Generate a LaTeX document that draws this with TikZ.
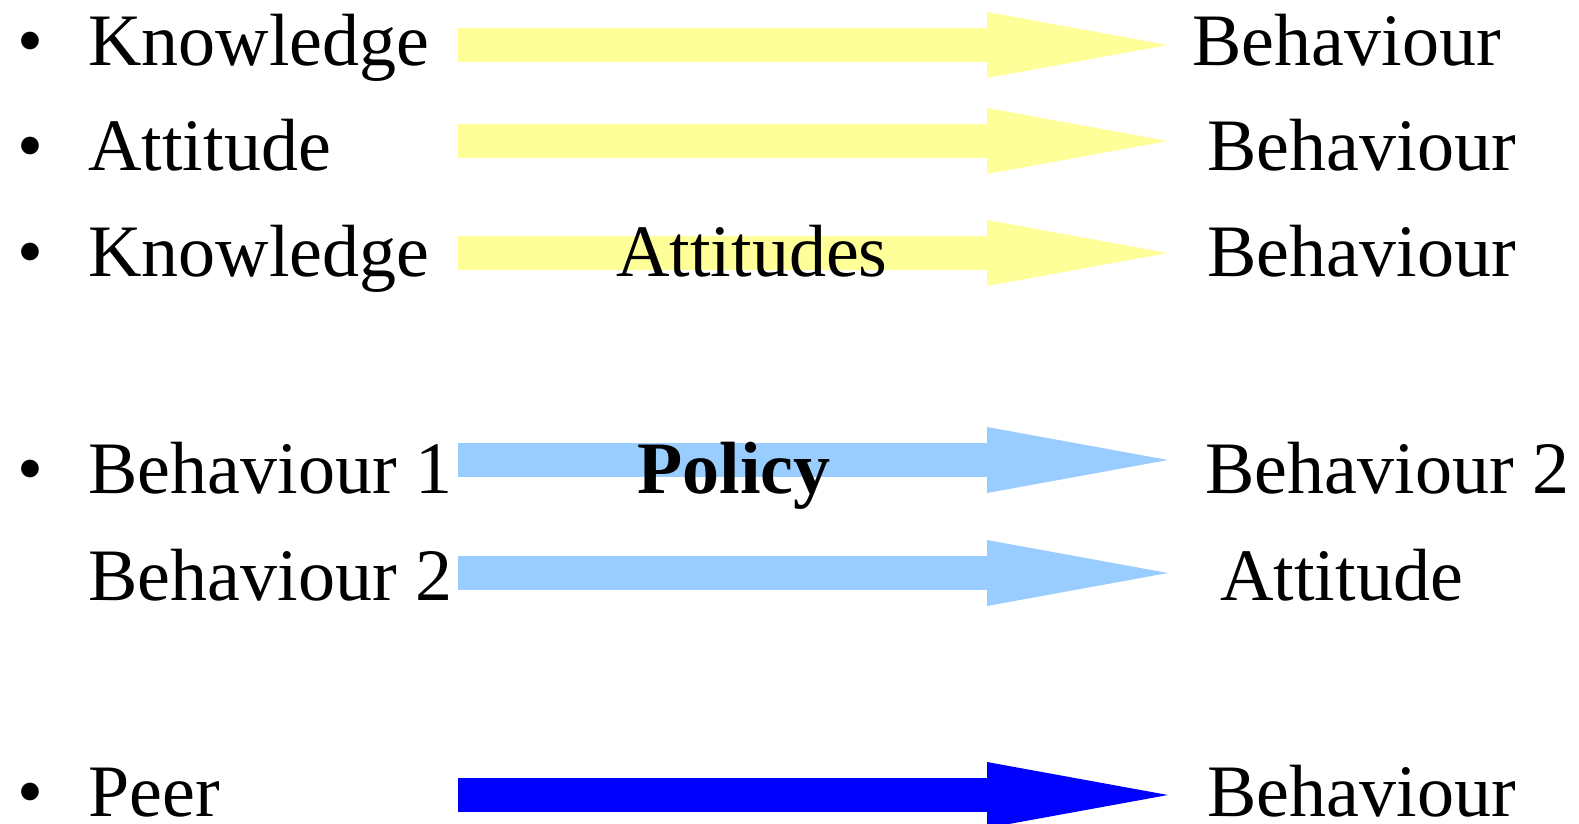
\documentclass[tikz,border=0pt]{standalone}
\usepackage{fontspec}
\setmainfont{Liberation Serif}
\usetikzlibrary{arrows.meta}
\definecolor{paleyellow}{HTML}{FFFF99}
\definecolor{paleblue}{HTML}{99CCFF}

\begin{document}
\begin{tikzpicture}[x=0.5pt, y=-0.5pt,
		word/.style={anchor=base west, inner sep=0pt, font=\fontsize{37}{40}\selectfont},
		dot/.style={anchor=base, inner sep=0pt, font=\fontsize{37}{40}\selectfont},
		bigarrow/.style={line width=17pt, -{Triangle[length=90.5pt, width=33pt, line width=0pt]}}]
	\useasboundingbox (0, 0) rectangle (1579, 824);

	% block arrows
	\coordinate (s1) at (458, 45);	\coordinate (e1) at (1168, 45);
	\coordinate (s2) at (458, 141);	\coordinate (e2) at (1168, 141);
	\coordinate (s3) at (458, 253);	\coordinate (e3) at (1168, 253);
	\coordinate (s4) at (458, 460);	\coordinate (e4) at (1168, 460);
	\coordinate (s5) at (458, 573);	\coordinate (e5) at (1168, 573);
	\coordinate (s6) at (458, 795);	\coordinate (e6) at (1168, 795);
	\draw[bigarrow, paleyellow]	(s1) -- (e1);
	\draw[bigarrow, paleyellow]	(s2) -- (e2);
	\draw[bigarrow, paleyellow]	(s3) -- (e3);
	\draw[bigarrow, paleblue]	(s4) -- (e4);
	\draw[bigarrow, paleblue]	(s5) -- (e5);
	\draw[bigarrow, blue]		(s6) -- (e6);

	% bullets
	\node[dot] (b1) at (30, 66) {•};
	\node[dot] (b2) at (30, 170) {•};
	\node[dot] (b3) at (30, 276) {•};
	\node[dot] (b4) at (30, 493) {•};
	\node[dot] (b6) at (30, 816) {•};

	% left column
	\node[word] (knowA) at (88, 66) {Knowledge};
	\node[word] (att) at (88, 170) {Attitude};
	\node[word] (knowB) at (88, 276) {Knowledge};
	\node[word] (behA) at (88, 493) {Behaviour 1};
	\node[word] (behB) at (88, 600) {Behaviour 2};
	\node[word] (peer) at (88, 816) {Peer};

	% middle
	\node[word] (atts) at (616, 276) {Attitudes};
	\node[word, font=\fontsize{37}{40}\selectfont\bfseries] (pol) at (637, 493) {Policy};

	% right column
	\node[word] (outA) at (1192, 66) {Behaviour};
	\node[word] (outB) at (1207, 170) {Behaviour};
	\node[word] (outC) at (1207, 276) {Behaviour};
	\node[word] (outD) at (1205, 493) {Behaviour 2};
	\node[word] (outE) at (1220, 600) {Attitude};
	\node[word] (outF) at (1207, 816) {Behaviour};
\end{tikzpicture}
\end{document}
